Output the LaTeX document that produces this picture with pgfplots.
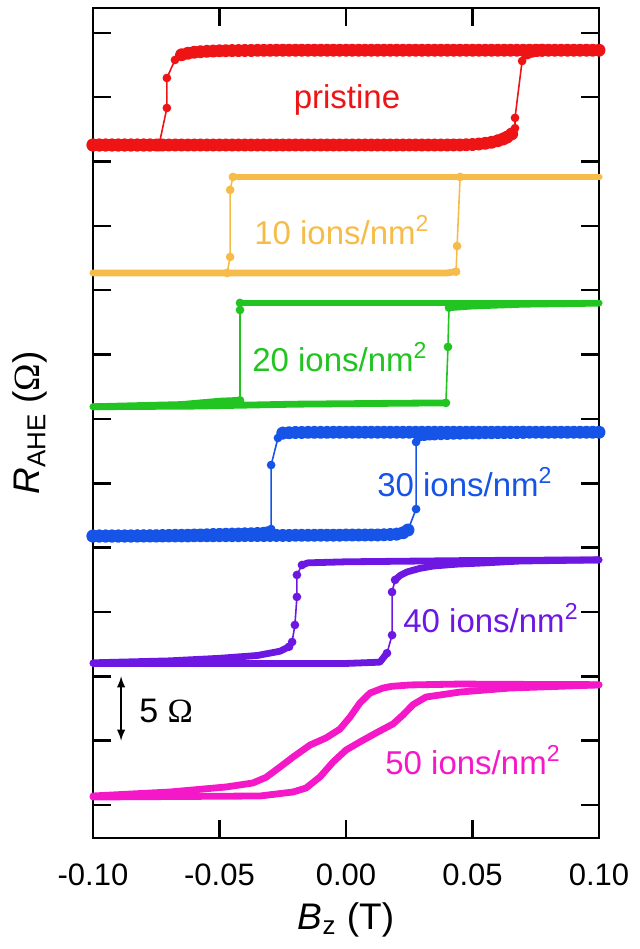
\documentclass[border=0pt]{standalone}
\usepackage{pgfplots}
\pgfplotsset{compat=1.18}
\usepackage{fontspec}
\setmainfont{Liberation Sans}
\newfontfamily\omegafont{Liberation Serif}

\definecolor{cPristine}{RGB}{238,20,22}
\definecolor{cTen}{RGB}{246,188,74}
\definecolor{cTwenty}{RGB}{34,196,34}
\definecolor{cThirty}{RGB}{22,84,232}
\definecolor{cForty}{RGB}{108,24,226}
\definecolor{cFifty}{RGB}{244,24,200}

\pgfplotsset{
  plateau/.style={line width=3.4pt, line cap=round, line join=round, mark=none},
  jump/.style={line width=0.8pt, mark=*, mark size=1.75pt, mark options={solid}},
  beads/.style={line width=2.8pt, line cap=round, line join=round, mark=*, mark size=1.9pt, mark options={solid}},
}
\tikzset{curvelabel/.style={font=\fontsize{16.5}{19}\selectfont, anchor=center}}

\begin{document}
\begin{tikzpicture}
\begin{axis}[
  name=ax,
  scale only axis, width=253pt, height=415pt,
  xmin=-0.1, xmax=0.1, ymin=-2.565, ymax=61.94,
  clip=false,
  xtick={-0.1,-0.05,0,0.05,0.1},
  xticklabels={-0.10,-0.05,0.00,0.05,0.10},
  ytick={0,5,...,60}, yticklabels={},
  tick align=inside, major tick length=9pt,
  axis line style={line width=1.2pt},
  every tick/.style={black, line width=1.2pt},
  xticklabel style={font=\fontsize{15.5}{18}\selectfont, anchor=center, yshift=-18.5pt},
  every axis x label/.style={at={(axis description cs:0.5,0)}, anchor=center, yshift=-41pt, font=\fontsize{18.5}{22}\selectfont},
  every axis y label/.style={at={(axis description cs:-0.1245,0.5)}, rotate=90, anchor=center, font=\fontsize{18.5}{22}\selectfont},
  xlabel={\textit{B}\textsubscript{z} (T)},
  ylabel={\textit{R}\textsubscript{AHE} ({\omegafont Ω})},
]

% ---------------- pristine ----------------
% sweep down: high state
\addplot[beads, cPristine] coordinates {
 (0.1000,58.66) (0.0975,58.66) (0.0950,58.66) (0.0925,58.66) (0.0900,58.66) (0.0875,58.66)
 (0.0850,58.66) (0.0825,58.66) (0.0800,58.66) (0.0775,58.66) (0.0750,58.66) (0.0725,58.66)
 (0.0700,58.66) (0.0675,58.66) (0.0650,58.66) (0.0625,58.66) (0.0600,58.66) (0.0575,58.66)
 (0.0550,58.66) (0.0525,58.66) (0.0500,58.66) (0.0475,58.66) (0.0450,58.66) (0.0425,58.66)
 (0.0400,58.66) (0.0375,58.66) (0.0350,58.66) (0.0325,58.66) (0.0300,58.66) (0.0275,58.66)
 (0.0250,58.66) (0.0225,58.66) (0.0200,58.66) (0.0175,58.66) (0.0150,58.66) (0.0125,58.66)
 (0.0100,58.66) (0.0075,58.66) (0.0050,58.66) (0.0025,58.66) (0.0000,58.66) (-0.0025,58.66)
 (-0.0050,58.66) (-0.0075,58.66) (-0.0100,58.66) (-0.0125,58.66) (-0.0150,58.66) (-0.0175,58.66)
 (-0.0200,58.66) (-0.0225,58.66) (-0.0250,58.66) (-0.0275,58.66) (-0.0300,58.65) (-0.0325,58.65)
 (-0.0350,58.65) (-0.0375,58.64) (-0.0400,58.64) (-0.0425,58.63) (-0.0450,58.63) (-0.0475,58.62)
 (-0.0500,58.61) (-0.0525,58.59) (-0.0550,58.57) (-0.0575,58.54) (-0.0600,58.50) (-0.0625,58.42)
 (-0.0650,58.30)};
\addplot[jump, cPristine] coordinates {
 (-0.0650,58.30) (-0.0676,57.90) (-0.0708,56.50) (-0.0708,54.17) (-0.0739,51.29)};
\addplot[beads, cPristine] coordinates {
 (-0.0739,51.29) (-0.0775,51.29) (-0.0800,51.29) (-0.0825,51.29) (-0.0850,51.29) (-0.0875,51.29)
 (-0.0900,51.29) (-0.0925,51.29) (-0.0950,51.29) (-0.0975,51.29) (-0.1000,51.29)};
% sweep up: low state
\addplot[beads, cPristine] coordinates {
 (-0.1000,51.29) (-0.0975,51.29) (-0.0950,51.29) (-0.0925,51.29) (-0.0900,51.29) (-0.0875,51.29)
 (-0.0850,51.29) (-0.0825,51.29) (-0.0800,51.29) (-0.0775,51.29) (-0.0750,51.29) (-0.0725,51.29)
 (-0.0700,51.29) (-0.0675,51.29) (-0.0650,51.29) (-0.0625,51.29) (-0.0600,51.29) (-0.0575,51.29)
 (-0.0550,51.29) (-0.0525,51.29) (-0.0500,51.29) (-0.0475,51.29) (-0.0450,51.29) (-0.0425,51.29)
 (-0.0400,51.29) (-0.0375,51.29) (-0.0350,51.29) (-0.0325,51.29) (-0.0300,51.29) (-0.0275,51.29)
 (-0.0250,51.29) (-0.0225,51.29) (-0.0200,51.29) (-0.0175,51.29) (-0.0150,51.29) (-0.0125,51.29)
 (-0.0100,51.29) (-0.0075,51.29) (-0.0050,51.29) (-0.0025,51.29) (0.0000,51.29) (0.0025,51.29)
 (0.0050,51.29) (0.0075,51.29) (0.0100,51.29) (0.0125,51.29) (0.0150,51.29) (0.0175,51.29)
 (0.0200,51.29) (0.0225,51.29) (0.0250,51.29) (0.0275,51.29) (0.0300,51.29) (0.0325,51.29)
 (0.0350,51.29) (0.0375,51.29) (0.0400,51.29) (0.0425,51.30) (0.0450,51.30) (0.0475,51.31)
 (0.0500,51.33) (0.0525,51.37) (0.0550,51.42) (0.0575,51.50) (0.0600,51.62) (0.0620,51.75)
 (0.0636,51.90) (0.0655,52.15)};
\addplot[jump, cPristine] coordinates {
 (0.0655,52.15) (0.0668,52.60) (0.0668,53.40) (0.0696,57.82) (0.0715,58.45)};
\addplot[beads, cPristine] coordinates {
 (0.0715,58.45) (0.0735,58.58) (0.0755,58.64) (0.0775,58.66)};

% ---------------- 10 ions/nm^2 ----------------
\addplot[plateau, cTen] coordinates {(0.100,48.81) (-0.0447,48.81)};
\addplot[jump, cTen] coordinates {(-0.0447,48.81) (-0.0458,47.80) (-0.0458,42.59) (-0.0470,41.35)};
\addplot[plateau, cTen] coordinates {(-0.0470,41.35) (-0.100,41.35)};
\addplot[plateau, cTen] coordinates {(-0.100,41.35) (0.040,41.35) (0.0435,41.45)};
\addplot[jump, cTen] coordinates {(0.0435,41.45) (0.0439,43.44) (0.0451,48.81)};
\addplot[plateau, cTen] coordinates {(0.0451,48.81) (0.100,48.81)};

% ---------------- 20 ions/nm^2 ----------------
\addplot[plateau, cTwenty] coordinates {(0.100,39.02) (-0.0419,39.02)};
\addplot[jump, cTwenty] coordinates {(-0.0419,39.02) (-0.0419,38.47) (-0.0419,31.45)};
\addplot[plateau, cTwenty] coordinates {(-0.0419,31.45) (-0.050,31.38) (-0.065,31.12) (-0.100,30.95)};
\addplot[plateau, cTwenty] coordinates {(-0.100,30.95) (-0.060,31.00) (-0.020,31.15) (0.020,31.22) (0.0395,31.25)};
\addplot[jump, cTwenty] coordinates {(0.0395,31.25) (0.0403,35.60) (0.0407,38.65)};
\addplot[plateau, cTwenty] coordinates {(0.0407,38.65) (0.050,38.78) (0.070,38.92) (0.100,39.00)};

% ---------------- 30 ions/nm^2 ----------------
\addplot[beads, cThirty] coordinates {
 (0.1000,28.97) (0.0975,28.97) (0.0950,28.97) (0.0925,28.97) (0.0900,28.97) (0.0875,28.97)
 (0.0850,28.97) (0.0825,28.97) (0.0800,28.97) (0.0775,28.97) (0.0750,28.97) (0.0725,28.97)
 (0.0700,28.97) (0.0675,28.97) (0.0650,28.97) (0.0625,28.97) (0.0600,28.97) (0.0575,28.97)
 (0.0550,28.97) (0.0525,28.97) (0.0500,28.97) (0.0475,28.97) (0.0450,28.97) (0.0425,28.97)
 (0.0400,28.97) (0.0375,28.97) (0.0350,28.97) (0.0325,28.97) (0.0300,28.97) (0.0275,28.97)
 (0.0250,28.97) (0.0225,28.97) (0.0200,28.97) (0.0175,28.97) (0.0150,28.97) (0.0125,28.97)
 (0.0100,28.97) (0.0075,28.97) (0.0050,28.97) (0.0025,28.97) (0.0000,28.97) (-0.0025,28.97)
 (-0.0050,28.97) (-0.0075,28.96) (-0.0100,28.96) (-0.0125,28.96) (-0.0150,28.96) (-0.0175,28.95)
 (-0.0200,28.95) (-0.0225,28.93) (-0.0250,28.90)};
\addplot[jump, cThirty] coordinates {
 (-0.0250,28.90) (-0.0269,28.52) (-0.0296,26.42) (-0.0296,21.45) (-0.0310,21.15)};
\addplot[beads, cThirty] coordinates {
 (-0.0310,21.15) (-0.0325,21.12) (-0.0350,21.10) (-0.0375,21.08) (-0.0400,21.07) (-0.0425,21.06)
 (-0.0450,21.05) (-0.0475,21.04) (-0.0500,21.03) (-0.0525,21.02) (-0.0550,21.00) (-0.0575,20.99)
 (-0.0600,20.98) (-0.0625,20.97) (-0.0650,20.96) (-0.0675,20.96) (-0.0700,20.95) (-0.0725,20.94)
 (-0.0750,20.93) (-0.0775,20.93) (-0.0800,20.92) (-0.0825,20.92) (-0.0850,20.91) (-0.0875,20.91)
 (-0.0900,20.90) (-0.0925,20.90) (-0.0950,20.90) (-0.0975,20.90) (-0.1000,20.90)};
\addplot[beads, cThirty] coordinates {
 (-0.1000,20.90) (-0.0975,20.90) (-0.0950,20.90) (-0.0925,20.90) (-0.0900,20.90) (-0.0875,20.90)
 (-0.0850,20.90) (-0.0825,20.90) (-0.0800,20.90) (-0.0775,20.90) (-0.0750,20.90) (-0.0725,20.90)
 (-0.0700,20.91) (-0.0675,20.91) (-0.0650,20.91) (-0.0625,20.91) (-0.0600,20.92) (-0.0575,20.92)
 (-0.0550,20.92) (-0.0525,20.92) (-0.0500,20.93) (-0.0475,20.93) (-0.0450,20.93) (-0.0425,20.93)
 (-0.0400,20.94) (-0.0375,20.94) (-0.0350,20.94) (-0.0325,20.94) (-0.0300,20.95) (-0.0275,20.95)
 (-0.0250,20.95) (-0.0225,20.95) (-0.0200,20.96) (-0.0175,20.96) (-0.0150,20.96) (-0.0125,20.96)
 (-0.0100,20.97) (-0.0075,20.97) (-0.0050,20.97) (-0.0025,20.97) (0.0000,20.98) (0.0025,20.98)
 (0.0050,20.98) (0.0075,20.98) (0.0100,20.99) (0.0125,20.99) (0.0150,21.00) (0.0175,21.02)
 (0.0200,21.05) (0.0225,21.15) (0.0245,21.37)};
\addplot[jump, cThirty] coordinates {
 (0.0245,21.37) (0.0277,23.00) (0.0277,28.21) (0.0290,28.76)};
\addplot[beads, cThirty] coordinates {
 (0.0290,28.76) (0.0310,28.80) (0.0330,28.83) (0.0350,28.84) (0.0375,28.86) (0.0400,28.87)
 (0.0425,28.89) (0.0450,28.90) (0.0475,28.91) (0.0500,28.92) (0.0525,28.92) (0.0550,28.93)
 (0.0575,28.93) (0.0600,28.94) (0.0625,28.94) (0.0650,28.95) (0.0675,28.95) (0.0700,28.96)};

% ---------------- 40 ions/nm^2 ----------------
\addplot[plateau, cForty] coordinates {(0.100,19.05) (0.050,19.00) (0.000,18.90) (-0.015,18.82) (-0.0174,18.65)};
\addplot[jump, cForty] coordinates {(-0.0174,18.65) (-0.0194,17.88) (-0.0194,16.17) (-0.0202,13.99) (-0.0213,12.67) (-0.0225,12.30)};
\addplot[plateau, cForty] coordinates {(-0.0225,12.30) (-0.0261,11.95) (-0.035,11.62) (-0.050,11.40) (-0.070,11.20) (-0.100,11.05)};
\addplot[plateau, cForty] coordinates {(-0.100,11.00) (0.000,11.00) (0.0134,11.10) (0.0162,11.80)};
\addplot[jump, cForty] coordinates {(0.0162,11.80) (0.0182,13.20) (0.0182,16.55) (0.0194,17.49)};
\addplot[plateau, cForty] coordinates {(0.0194,17.49) (0.0215,17.85) (0.0241,18.11) (0.0290,18.38) (0.0344,18.57) (0.0440,18.72) (0.0542,18.81) (0.0688,18.96) (0.100,19.05)};

% ---------------- 50 ions/nm^2 ----------------
\addplot[plateau, cFifty] coordinates {
 (0.100,9.35) (0.060,9.38) (0.0451,9.40) (0.0253,9.33) (0.0180,9.22) (0.0146,9.09) (0.0095,8.70)
 (0.0055,7.93) (0.0016,6.84) (-0.0024,5.90) (-0.0079,5.21) (-0.0142,4.66) (-0.0209,3.73)
 (-0.0261,2.95) (-0.0316,2.15) (-0.0368,1.71) (-0.0474,1.40) (-0.0696,1.01) (-0.100,0.70)};
\addplot[plateau, cFifty] coordinates {
 (-0.100,0.62) (-0.034,0.70) (-0.0209,1.01) (-0.0158,1.32) (-0.0103,2.18) (-0.0051,3.34)
 (0.000,4.27) (0.0055,4.90) (0.0119,5.60) (0.0186,6.30) (0.0225,6.99) (0.0265,7.80)
 (0.0316,8.39) (0.0451,8.78) (0.0648,9.09) (0.100,9.33)};

% scale bar: 5 Ohm
\addplot[black, line width=0.9pt, {latex}-{latex}] coordinates {(-0.0889,5) (-0.0889,10)};
\node[anchor=west, font=\fontsize{17}{20}\selectfont] at (axis cs:-0.0845,7.3) {5 {\omegafont Ω}};

% curve labels
\node[curvelabel, text=cPristine] at (axis cs:0.0004,54.79) {pristine};
\node[curvelabel, text=cTen] at (axis cs:-0.0016,44.69) {10 ions/nm\textsuperscript{2}};
\node[curvelabel, text=cTwenty] at (axis cs:-0.0024,34.82) {20 ions/nm\textsuperscript{2}};
\node[curvelabel, text=cThirty] at (axis cs:0.0470,25.10) {30 ions/nm\textsuperscript{2}};
\node[curvelabel, text=cForty] at (axis cs:0.0573,14.53) {40 ions/nm\textsuperscript{2}};
\node[curvelabel, text=cFifty] at (axis cs:0.0502,3.50) {50 ions/nm\textsuperscript{2}};
\end{axis}
\pgfresetboundingbox
\path ([shift={(-46.5pt,-55.5pt)}]ax.south west) rectangle ([shift={(20pt,4pt)}]ax.north east);
\end{tikzpicture}
\end{document}
